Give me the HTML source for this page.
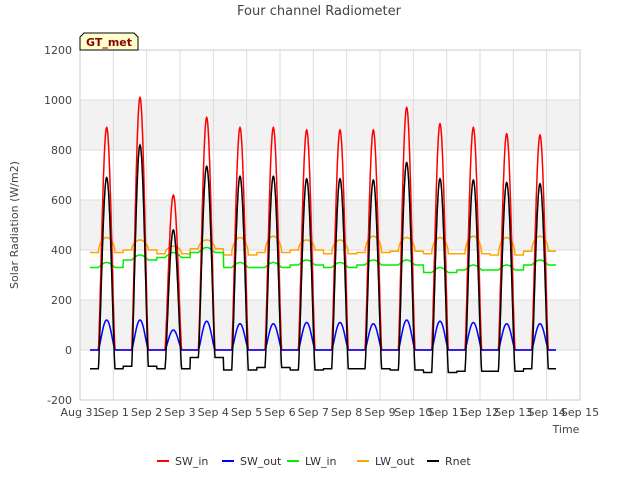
<!DOCTYPE html>
<html><head><meta charset="utf-8"><style>
body{margin:0;background:#fff;font-family:"Liberation Sans",sans-serif}
svg text{font-family:"DejaVu Sans","Liberation Sans",sans-serif}
</style></head><body>
<svg id="c" width="640" height="480" viewBox="0 0 640 480">
<text x="319" y="15" text-anchor="middle" font-size="13" fill="#444">Four channel Radiometer</text>
<g id="grid"></g>
<g id="series"></g>
<g id="axes"></g>
<text transform="translate(18,225) rotate(-90)" text-anchor="middle" font-size="11" fill="#444">Solar Radiation (W/m2)</text>
<text x="566" y="433" text-anchor="middle" font-size="11" fill="#444">Time</text>
<g>
<path d="M80,50 L80,37 L84,33 L134,33 L138,37 L138,50 Z" fill="#ffffcc" stroke="#000" stroke-width="1"/>
<text x="109" y="46" text-anchor="middle" font-size="11" font-weight="bold" fill="#8b0000">GT_met</text>
</g>
<g id="legend"></g>
</svg>
<script>
const yTicks=[-200,0,200,400,600,800,1000,1200];
const xTickLabels=["Aug 31","Sep 1","Sep 2","Sep 3","Sep 4","Sep 5","Sep 6","Sep 7","Sep 8","Sep 9","Sep 10","Sep 11","Sep 12","Sep 13","Sep 14","Sep 15"];
const swInPeak=[890,1010,620,930,890,890,880,880,880,970,905,890,865,860];
const swOutPeak=[120,120,80,115,105,105,110,110,105,120,115,110,105,105];
const lwInLevel=[330,360,370,390,330,330,340,330,340,340,310,320,320,340];
const lwOutNight=[390,400,385,405,380,390,400,385,390,395,385,385,380,395];
const lwOutDay=[450,440,415,440,450,455,440,440,455,450,450,455,450,455];
const rnetPeak=[690,820,480,735,695,695,685,685,680,750,685,680,670,665];
const rnetNight=[-75,-65,-75,-30,-80,-70,-80,-75,-75,-80,-90,-85,-85,-75];
const tStart=0.3,tEnd=14.28;
const ns="http://www.w3.org/2000/svg";
const X=t=>80+t*(500/15), Y=v=>350-v*0.25;
function mk(tag,attrs,parent){const e=document.createElementNS(ns,tag);for(const k in attrs)e.setAttribute(k,attrs[k]);document.getElementById(parent).appendChild(e);return e;}
// grid bands
[[800,1000],[400,600],[0,200]].forEach(b=>{const r=mk('rect',{x:80,y:Y(b[1]),width:500,height:Y(b[0])-Y(b[1]),fill:'#f2f2f2'},'grid');

});
yTicks.forEach(v=>{const l=mk('line',{x1:80,x2:580,y1:Y(v),y2:Y(v),stroke:'#ddd'},'grid');


const t=mk('text',{x:72,y:Y(v)+4,'text-anchor':'end','font-size':11,fill:'#444'},'axes');t.textContent=v;

});
xTickLabels.forEach((s,i)=>{const l=mk('line',{x1:X(i),x2:X(i),y1:50,y2:400,stroke:'#ddd'},'grid');


const t=mk('text',{x:X(i),y:416,'text-anchor':'middle','font-size':11,fill:'#444'},'axes');t.textContent=s;

});
mk('rect',{x:80,y:50,width:500,height:350,fill:'none',stroke:'#ccc'},'axes');
function sun(t){const f=t-Math.floor(t);let g=f<0.3?f+1:f;const s=(g-0.55)/0.5;return (s>0&&s<1)?Math.sin(Math.PI*s):0;}
function dayIdx(t){const f=t-Math.floor(t);let d=Math.floor(t);if(f<0.3)d-=1;return Math.max(0,Math.min(13,d));}
function build(fn){let p=[];for(let t=tStart;t<=tEnd;t+=0.01){p.push(X(t).toFixed(1)+','+Y(fn(t,dayIdx(t),sun(t))).toFixed(1));}return 'M'+p.join('L');}
const series=[
 ['LW_out','#ffa500',(t,d,s)=>lwOutNight[d]+(lwOutDay[d]-lwOutNight[d])*Math.sqrt(s)],
 ['LW_in','#00ee00',(t,d,s)=>lwInLevel[d]+20*s],
 ['SW_in','#ff0000',(t,d,s)=>swInPeak[d]*Math.pow(s,1.3)],
 ['SW_out','#0000ff',(t,d,s)=>swOutPeak[d]*Math.pow(s,1.3)],
 ['Rnet','#000000',(t,d,s)=>rnetNight[d]+(rnetPeak[d]-rnetNight[d])*Math.pow(s,1.3)]];
series.forEach(([n,c,f])=>{const p=mk('path',{d:build(f),fill:'none',stroke:c,'stroke-width':1.5},'series');

});
const order=['SW_in','SW_out','LW_in','LW_out','Rnet'],cols=['#ff0000','#0000ff','#00ee00','#ffa500','#000000'],lx=[157,222,287,357,427];
order.forEach((n,i)=>{const g=mk('g',{},'legend');


const l=document.createElementNS(ns,'line');l.setAttribute('x1',lx[i]);l.setAttribute('x2',lx[i]+12);l.setAttribute('y1',461);l.setAttribute('y2',461);l.setAttribute('stroke',cols[i]);l.setAttribute('stroke-width',2);g.appendChild(l);
const t=document.createElementNS(ns,'text');t.setAttribute('x',lx[i]+18);t.setAttribute('y',465);t.setAttribute('font-size',11);t.setAttribute('fill','#333');t.textContent=n;g.appendChild(t);});
</script>
</body></html>
